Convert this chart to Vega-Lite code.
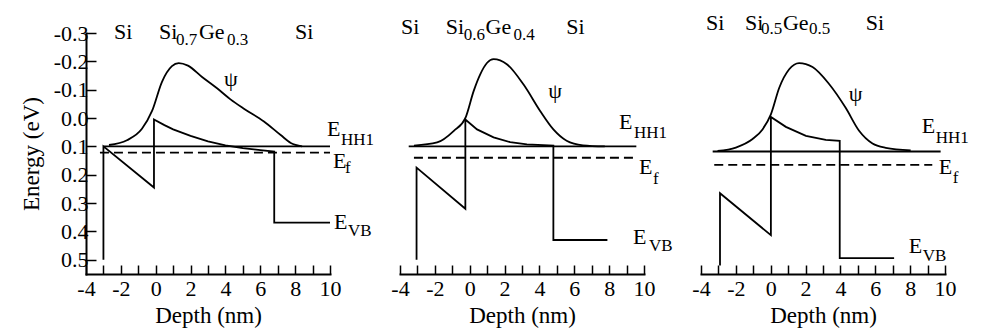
{
  "$schema": "https://vega.github.io/schema/vega-lite/v6.json",
  "background": "white",
  "padding": {"left": 20, "top": 12, "right": 5, "bottom": 5},
  "config": {
    "view": {"stroke": null},
    "axis": {
      "domainColor": "black", "domainWidth": 2, "domainCap": "square",
      "tickColor": "black", "tickWidth": 1.5,
      "labelColor": "black", "labelFont": "Liberation Serif, Times New Roman, Times, DejaVu Serif, serif", "labelFontSize": 22,
      "titleColor": "black", "titleFont": "Liberation Serif, Times New Roman, Times, DejaVu Serif, serif", "titleFontSize": 23, "titleFontWeight": "normal",
      "grid": false, "labelFlush": false, "labelOverlap": false
    },
    "text": {"font": "Liberation Serif, Times New Roman, Times, DejaVu Serif, serif", "color": "black"}
  },
  "datasets": {
    "curves": [
      {"p": "a", "s": "EHH1", "i": 0, "d": -3, "e": 0.1},
      {"p": "a", "s": "EHH1", "i": 1, "d": 10, "e": 0.1},
      {"p": "a", "s": "Ef", "i": 0, "d": -3.2, "e": 0.122},
      {"p": "a", "s": "Ef", "i": 1, "d": 10, "e": 0.122},
      {"p": "a", "s": "EVB", "i": 0, "d": -3, "e": 0.5},
      {"p": "a", "s": "EVB", "i": 1, "d": -3, "e": 0.1},
      {"p": "a", "s": "EVB", "i": 2, "d": -0.1, "e": 0.245},
      {"p": "a", "s": "EVB", "i": 3, "d": -0.1, "e": 0.005},
      {"p": "a", "s": "EVB", "i": 4, "d": 0.5, "e": 0.025},
      {"p": "a", "s": "EVB", "i": 5, "d": 1, "e": 0.04},
      {"p": "a", "s": "EVB", "i": 6, "d": 2, "e": 0.063},
      {"p": "a", "s": "EVB", "i": 7, "d": 3, "e": 0.082},
      {"p": "a", "s": "EVB", "i": 8, "d": 4, "e": 0.096},
      {"p": "a", "s": "EVB", "i": 9, "d": 5, "e": 0.106},
      {"p": "a", "s": "EVB", "i": 10, "d": 6, "e": 0.113},
      {"p": "a", "s": "EVB", "i": 11, "d": 6.8, "e": 0.118},
      {"p": "a", "s": "EVB", "i": 12, "d": 6.8, "e": 0.369},
      {"p": "a", "s": "EVB", "i": 13, "d": 10, "e": 0.369},
      {"p": "a", "s": "psi", "i": 0, "d": -2.68, "e": 0.095},
      {"p": "a", "s": "psi", "i": 1, "d": -1.65, "e": 0.078},
      {"p": "a", "s": "psi", "i": 2, "d": -0.79, "e": 0.038},
      {"p": "a", "s": "psi", "i": 3, "d": -0.21, "e": -0.025},
      {"p": "a", "s": "psi", "i": 4, "d": 0.36, "e": -0.128},
      {"p": "a", "s": "psi", "i": 5, "d": 0.93, "e": -0.183},
      {"p": "a", "s": "psi", "i": 6, "d": 1.32, "e": -0.194},
      {"p": "a", "s": "psi", "i": 7, "d": 1.85, "e": -0.185},
      {"p": "a", "s": "psi", "i": 8, "d": 2.66, "e": -0.145},
      {"p": "a", "s": "psi", "i": 9, "d": 3.52, "e": -0.105},
      {"p": "a", "s": "psi", "i": 10, "d": 4.29, "e": -0.066},
      {"p": "a", "s": "psi", "i": 11, "d": 5.06, "e": -0.033},
      {"p": "a", "s": "psi", "i": 12, "d": 6.21, "e": 0.012},
      {"p": "a", "s": "psi", "i": 13, "d": 7.17, "e": 0.06},
      {"p": "a", "s": "psi", "i": 14, "d": 7.75, "e": 0.088},
      {"p": "a", "s": "psi", "i": 15, "d": 8.4, "e": 0.1},

      {"p": "b", "s": "EHH1", "i": 0, "d": -3.5, "e": 0.1},
      {"p": "b", "s": "EHH1", "i": 1, "d": 9.56, "e": 0.1},
      {"p": "b", "s": "Ef", "i": 0, "d": -3.2, "e": 0.14},
      {"p": "b", "s": "Ef", "i": 1, "d": 9.56, "e": 0.14},
      {"p": "b", "s": "EVB", "i": 0, "d": -3.05, "e": 0.5},
      {"p": "b", "s": "EVB", "i": 1, "d": -3.05, "e": 0.175},
      {"p": "b", "s": "EVB", "i": 2, "d": -0.25, "e": 0.32},
      {"p": "b", "s": "EVB", "i": 3, "d": -0.25, "e": 0.005},
      {"p": "b", "s": "EVB", "i": 4, "d": 0.42, "e": 0.04},
      {"p": "b", "s": "EVB", "i": 5, "d": 1.37, "e": 0.068},
      {"p": "b", "s": "EVB", "i": 6, "d": 2.32, "e": 0.085},
      {"p": "b", "s": "EVB", "i": 7, "d": 3.28, "e": 0.093},
      {"p": "b", "s": "EVB", "i": 8, "d": 4.8, "e": 0.097},
      {"p": "b", "s": "EVB", "i": 9, "d": 4.8, "e": 0.43},
      {"p": "b", "s": "EVB", "i": 10, "d": 7.9, "e": 0.43},
      {"p": "b", "s": "psi", "i": 0, "d": -3.2, "e": 0.097},
      {"p": "b", "s": "psi", "i": 1, "d": -1.87, "e": 0.086},
      {"p": "b", "s": "psi", "i": 2, "d": -0.91, "e": 0.045},
      {"p": "b", "s": "psi", "i": 3, "d": -0.25, "e": 0.0},
      {"p": "b", "s": "psi", "i": 4, "d": 0.23, "e": -0.096},
      {"p": "b", "s": "psi", "i": 5, "d": 0.61, "e": -0.155},
      {"p": "b", "s": "psi", "i": 6, "d": 1.0, "e": -0.195},
      {"p": "b", "s": "psi", "i": 7, "d": 1.37, "e": -0.208},
      {"p": "b", "s": "psi", "i": 8, "d": 2.13, "e": -0.19},
      {"p": "b", "s": "psi", "i": 9, "d": 3.09, "e": -0.118},
      {"p": "b", "s": "psi", "i": 10, "d": 4.04, "e": -0.025},
      {"p": "b", "s": "psi", "i": 11, "d": 4.8, "e": 0.04},
      {"p": "b", "s": "psi", "i": 12, "d": 5.56, "e": 0.08},
      {"p": "b", "s": "psi", "i": 13, "d": 6.5, "e": 0.096},
      {"p": "b", "s": "psi", "i": 14, "d": 7.75, "e": 0.1},

      {"p": "c", "s": "EHH1", "i": 0, "d": -3.33, "e": 0.118},
      {"p": "c", "s": "EHH1", "i": 1, "d": 9.75, "e": 0.118},
      {"p": "c", "s": "Ef", "i": 0, "d": -3.24, "e": 0.165},
      {"p": "c", "s": "Ef", "i": 1, "d": 9.27, "e": 0.165},
      {"p": "c", "s": "EVB", "i": 0, "d": -2.91, "e": 0.52},
      {"p": "c", "s": "EVB", "i": 1, "d": -2.91, "e": 0.265},
      {"p": "c", "s": "EVB", "i": 2, "d": 0.01, "e": 0.413},
      {"p": "c", "s": "EVB", "i": 3, "d": 0.01, "e": -0.004},
      {"p": "c", "s": "EVB", "i": 4, "d": 0.87, "e": 0.031},
      {"p": "c", "s": "EVB", "i": 5, "d": 2.02, "e": 0.063},
      {"p": "c", "s": "EVB", "i": 6, "d": 3.16, "e": 0.077},
      {"p": "c", "s": "EVB", "i": 7, "d": 3.96, "e": 0.08},
      {"p": "c", "s": "EVB", "i": 8, "d": 3.96, "e": 0.494},
      {"p": "c", "s": "EVB", "i": 9, "d": 7.08, "e": 0.494},
      {"p": "c", "s": "psi", "i": 0, "d": -3.05, "e": 0.116},
      {"p": "c", "s": "psi", "i": 1, "d": -2.0, "e": 0.104},
      {"p": "c", "s": "psi", "i": 2, "d": -1.04, "e": 0.074},
      {"p": "c", "s": "psi", "i": 3, "d": -0.47, "e": 0.04},
      {"p": "c", "s": "psi", "i": 4, "d": 0.01, "e": -0.013},
      {"p": "c", "s": "psi", "i": 5, "d": 0.49, "e": -0.107},
      {"p": "c", "s": "psi", "i": 6, "d": 1.06, "e": -0.172},
      {"p": "c", "s": "psi", "i": 7, "d": 1.63, "e": -0.194},
      {"p": "c", "s": "psi", "i": 8, "d": 2.4, "e": -0.18},
      {"p": "c", "s": "psi", "i": 9, "d": 3.35, "e": -0.12},
      {"p": "c", "s": "psi", "i": 10, "d": 4.3, "e": -0.036},
      {"p": "c", "s": "psi", "i": 11, "d": 5.07, "e": 0.045},
      {"p": "c", "s": "psi", "i": 12, "d": 5.84, "e": 0.09},
      {"p": "c", "s": "psi", "i": 13, "d": 6.6, "e": 0.105},
      {"p": "c", "s": "psi", "i": 14, "d": 8.03, "e": 0.114}
    ],
    "labels": [
      {"p": "a", "k": "main", "t": "Si", "d": -2.39, "e": -0.279},
      {"p": "a", "k": "main", "t": "Si", "d": 0.19, "e": -0.279},
      {"p": "a", "k": "sub", "t": "0.7", "d": 1.16, "e": -0.258},
      {"p": "a", "k": "main", "t": "Ge", "d": 2.48, "e": -0.279},
      {"p": "a", "k": "sub", "t": "0.3", "d": 4.09, "e": -0.258},
      {"p": "a", "k": "main", "t": "Si", "d": 7.99, "e": -0.279},
      {"p": "a", "k": "main", "t": "ψ", "d": 3.92, "e": -0.113},
      {"p": "a", "k": "main", "t": "E", "d": 9.83, "e": 0.063},
      {"p": "a", "k": "sub", "t": "HH1", "d": 10.63, "e": 0.094},
      {"p": "a", "k": "main", "t": "E", "d": 10.17, "e": 0.175},
      {"p": "a", "k": "sub", "t": "f", "d": 10.86, "e": 0.193},
      {"p": "a", "k": "main", "t": "E", "d": 10.23, "e": 0.39},
      {"p": "a", "k": "sub", "t": "VB", "d": 11.03, "e": 0.415},

      {"p": "b", "k": "main", "t": "Si", "d": -3.94, "e": -0.296},
      {"p": "b", "k": "main", "t": "Si", "d": -1.37, "e": -0.296},
      {"p": "b", "k": "sub", "t": "0.6", "d": -0.34, "e": -0.275},
      {"p": "b", "k": "main", "t": "Ge", "d": 0.91, "e": -0.296},
      {"p": "b", "k": "sub", "t": "0.4", "d": 2.51, "e": -0.275},
      {"p": "b", "k": "main", "t": "Si", "d": 5.54, "e": -0.296},
      {"p": "b", "k": "main", "t": "ψ", "d": 4.51, "e": -0.071},
      {"p": "b", "k": "main", "t": "E", "d": 8.57, "e": 0.038},
      {"p": "b", "k": "sub", "t": "HH1", "d": 9.43, "e": 0.07},
      {"p": "b", "k": "main", "t": "E", "d": 9.71, "e": 0.196},
      {"p": "b", "k": "sub", "t": "f", "d": 10.51, "e": 0.232},
      {"p": "b", "k": "main", "t": "E", "d": 9.37, "e": 0.443},
      {"p": "b", "k": "sub", "t": "VB", "d": 10.29, "e": 0.468},

      {"p": "c", "k": "main", "t": "Si", "d": -3.71, "e": -0.31},
      {"p": "c", "k": "main", "t": "Si", "d": -1.48, "e": -0.31},
      {"p": "c", "k": "sub", "t": "0.5", "d": -0.56, "e": -0.296},
      {"p": "c", "k": "main", "t": "Ge", "d": 0.7, "e": -0.31},
      {"p": "c", "k": "sub", "t": "0.5", "d": 2.19, "e": -0.296},
      {"p": "c", "k": "main", "t": "Si", "d": 5.46, "e": -0.31},
      {"p": "c", "k": "main", "t": "ψ", "d": 4.48, "e": -0.06},
      {"p": "c", "k": "main", "t": "E", "d": 8.66, "e": 0.052},
      {"p": "c", "k": "sub", "t": "HH1", "d": 9.47, "e": 0.087},
      {"p": "c", "k": "main", "t": "E", "d": 9.64, "e": 0.196},
      {"p": "c", "k": "sub", "t": "f", "d": 10.44, "e": 0.228},
      {"p": "c", "k": "main", "t": "E", "d": 7.92, "e": 0.475},
      {"p": "c", "k": "sub", "t": "VB", "d": 8.72, "e": 0.503}
    ]
  },
  "spacing": 70,
  "bounds": "flush",
  "hconcat": [
    {
      "width": 244, "height": 241,
      "encoding": {
        "x": {"field": "d", "type": "quantitative", "scale": {"domain": [-4, 10], "nice": false, "zero": false},
          "axis": {"title": "Depth (nm)", "values": [-4, -3, -2, -1, 0, 1, 2, 3, 4, 5, 6, 7, 8, 9, 10], "tickSize": -9, "labelPadding": 13, "titlePadding": 5,
            "labelExpr": "datum.value % 2 === 0 ? (datum.value < 0 ? '-' : '') + abs(datum.value) : ''"}},
        "y": {"field": "e", "type": "quantitative", "scale": {"domain": [-0.3, 0.55], "nice": false, "zero": false, "reverse": true},
          "axis": {"title": "Energy (eV)", "values": [-0.3, -0.2, -0.1, 0, 0.1, 0.2, 0.3, 0.4, 0.5], "tickSize": -10, "labelPadding": 8, "titlePadding": 10,
            "labelExpr": "(datum.value < -0.001 ? '-' : '') + format(abs(datum.value), '.1f')"}}
      },
      "layer": [
        {"data": {"name": "curves"}, "transform": [{"filter": "datum.p === 'a' && (datum.s === 'EVB' || datum.s === 'EHH1')"}],
          "mark": {"type": "line", "color": "black", "strokeWidth": 1.8},
          "encoding": {"detail": {"field": "s"}, "order": {"field": "i"}}},
        {"data": {"name": "curves"}, "transform": [{"filter": "datum.p === 'a' && datum.s === 'psi'"}],
          "mark": {"type": "line", "color": "black", "strokeWidth": 1.8, "interpolate": "monotone"},
          "encoding": {"order": {"field": "i"}}},
        {"data": {"name": "curves"}, "transform": [{"filter": "datum.p === 'a' && datum.s === 'Ef'"}],
          "mark": {"type": "line", "color": "black", "strokeWidth": 1.8, "strokeDash": [9, 5]},
          "encoding": {"order": {"field": "i"}}},
        {"data": {"name": "labels"}, "transform": [{"filter": "datum.p === 'a' && datum.k === 'main'"}],
          "mark": {"type": "text", "fontSize": 22, "align": "left", "baseline": "alphabetic"},
          "encoding": {"text": {"field": "t"}}},
        {"data": {"name": "labels"}, "transform": [{"filter": "datum.p === 'a' && datum.k === 'sub'"}],
          "mark": {"type": "text", "fontSize": 17, "align": "left", "baseline": "alphabetic"},
          "encoding": {"text": {"field": "t"}}}
      ]
    },
    {
      "spacing": 57,
      "bounds": "flush",
      "hconcat": [
        {
          "width": 244, "height": 241,
          "encoding": {
            "x": {"field": "d", "type": "quantitative", "scale": {"domain": [-4, 10], "nice": false, "zero": false},
              "axis": {"title": "Depth (nm)", "values": [-4, -3, -2, -1, 0, 1, 2, 3, 4, 5, 6, 7, 8, 9, 10], "tickSize": -9, "labelPadding": 13, "titlePadding": 5,
                "labelExpr": "datum.value % 2 === 0 ? (datum.value < 0 ? '-' : '') + abs(datum.value) : ''"}},
            "y": {"field": "e", "type": "quantitative", "scale": {"domain": [-0.3, 0.55], "nice": false, "zero": false, "reverse": true}, "axis": null}
          },
          "layer": [
            {"data": {"name": "curves"}, "transform": [{"filter": "datum.p === 'b' && (datum.s === 'EVB' || datum.s === 'EHH1')"}],
              "mark": {"type": "line", "color": "black", "strokeWidth": 1.8},
              "encoding": {"detail": {"field": "s"}, "order": {"field": "i"}}},
            {"data": {"name": "curves"}, "transform": [{"filter": "datum.p === 'b' && datum.s === 'psi'"}],
              "mark": {"type": "line", "color": "black", "strokeWidth": 1.8, "interpolate": "monotone"},
              "encoding": {"order": {"field": "i"}}},
            {"data": {"name": "curves"}, "transform": [{"filter": "datum.p === 'b' && datum.s === 'Ef'"}],
              "mark": {"type": "line", "color": "black", "strokeWidth": 1.8, "strokeDash": [9, 5]},
              "encoding": {"order": {"field": "i"}}},
            {"data": {"name": "labels"}, "transform": [{"filter": "datum.p === 'b' && datum.k === 'main'"}],
              "mark": {"type": "text", "fontSize": 22, "align": "left", "baseline": "alphabetic"},
              "encoding": {"text": {"field": "t"}}},
            {"data": {"name": "labels"}, "transform": [{"filter": "datum.p === 'b' && datum.k === 'sub'"}],
              "mark": {"type": "text", "fontSize": 17, "align": "left", "baseline": "alphabetic"},
              "encoding": {"text": {"field": "t"}}}
          ]
        },
        {
          "width": 244, "height": 241,
          "encoding": {
            "x": {"field": "d", "type": "quantitative", "scale": {"domain": [-4, 10], "nice": false, "zero": false},
              "axis": {"title": "Depth (nm)", "values": [-4, -3, -2, -1, 0, 1, 2, 3, 4, 5, 6, 7, 8, 9, 10], "tickSize": -9, "labelPadding": 13, "titlePadding": 5,
                "labelExpr": "datum.value % 2 === 0 ? (datum.value < 0 ? '-' : '') + abs(datum.value) : ''"}},
            "y": {"field": "e", "type": "quantitative", "scale": {"domain": [-0.3, 0.55], "nice": false, "zero": false, "reverse": true}, "axis": null}
          },
          "layer": [
            {"data": {"name": "curves"}, "transform": [{"filter": "datum.p === 'c' && (datum.s === 'EVB' || datum.s === 'EHH1')"}],
              "mark": {"type": "line", "color": "black", "strokeWidth": 1.8},
              "encoding": {"detail": {"field": "s"}, "order": {"field": "i"}}},
            {"data": {"name": "curves"}, "transform": [{"filter": "datum.p === 'c' && datum.s === 'psi'"}],
              "mark": {"type": "line", "color": "black", "strokeWidth": 1.8, "interpolate": "monotone"},
              "encoding": {"order": {"field": "i"}}},
            {"data": {"name": "curves"}, "transform": [{"filter": "datum.p === 'c' && datum.s === 'Ef'"}],
              "mark": {"type": "line", "color": "black", "strokeWidth": 1.8, "strokeDash": [9, 5]},
              "encoding": {"order": {"field": "i"}}},
            {"data": {"name": "labels"}, "transform": [{"filter": "datum.p === 'c' && datum.k === 'main'"}],
              "mark": {"type": "text", "fontSize": 22, "align": "left", "baseline": "alphabetic"},
              "encoding": {"text": {"field": "t"}}},
            {"data": {"name": "labels"}, "transform": [{"filter": "datum.p === 'c' && datum.k === 'sub'"}],
              "mark": {"type": "text", "fontSize": 17, "align": "left", "baseline": "alphabetic"},
              "encoding": {"text": {"field": "t"}}}
          ]
        }
      ]
    }
  ]
}
